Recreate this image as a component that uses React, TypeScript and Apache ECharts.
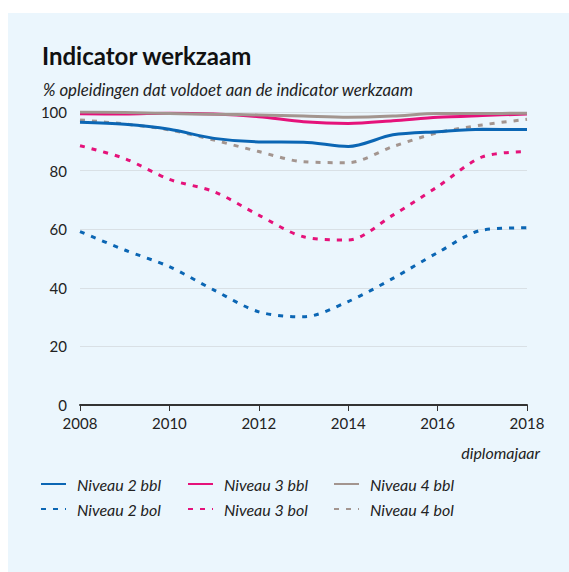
import React, { useEffect, useRef } from "react";
import * as echarts from "echarts";

const years = ["2008", "2009", "2010", "2011", "2012", "2013", "2014", "2015", "2016", "2017", "2018"];
const niveau2bbl = [96.5, 95.8, 94.1, 91.0, 89.8, 89.7, 88.2, 92.2, 93.3, 94.1, 94.0];
const niveau3bbl = [99.4, 99.3, 99.6, 99.3, 98.4, 96.7, 96.1, 97.0, 98.2, 98.8, 99.3];
const niveau4bbl = [100.0, 99.8, 99.5, 99.2, 99.0, 98.6, 98.2, 98.6, 99.5, 99.5, 99.6];
const niveau2bol = [59.2, 52.9, 47.2, 39.2, 31.8, 30.1, 35.3, 43.2, 52.0, 59.7, 60.5];
const niveau3bol = [88.5, 84.1, 77.0, 72.8, 64.8, 57.4, 56.3, 64.8, 74.5, 84.7, 86.5];
const niveau4bol = [97.3, 95.9, 93.9, 90.4, 86.5, 83.0, 82.7, 88.2, 92.9, 95.6, 97.5];
const yTicks = [0, 20, 40, 60, 80, 100];

const BLUE = "#0b66b4";
const PINK = "#e5127a";
const GRAY = "#a3958f";
const FONT = "Lato";

export default function App() {
  const ref = useRef<HTMLDivElement>(null);
  useEffect(() => {
    if (!ref.current) return;
    const chart = echarts.init(ref.current, null, { renderer: "svg" });
    const mk = (name: string, data: number[], color: string, dashed: boolean) => ({
      name,
      type: "line",
      data,
      smooth: 0.3,
      symbol: "none",
      lineStyle: { color, width: 3, type: dashed ? [5, 7] : "solid", cap: "butt" },
      itemStyle: { color },
      z: dashed ? 3 : 4,
    });
    const legendBase = {
      orient: "vertical",
      top: 463,
      padding: 0,
      itemWidth: 25,
      itemHeight: 14,
      itemGap: 9,
      itemStyle: { opacity: 0 },
      textStyle: { fontFamily: FONT, fontStyle: "italic", fontSize: 16, color: "#222", padding: [0, 0, 0, 6] },
    };
    chart.setOption({
      animation: false,
      textStyle: { fontFamily: FONT },
      title: [
        { text: "Indicator werkzaam", left: 34, top: 30, padding: 0, textStyle: { fontFamily: FONT, fontWeight: "bold", fontSize: 24, color: "#111" } },
        { text: "% opleidingen dat voldoet aan de indicator werkzaam", left: 35, top: 68, padding: 0, textStyle: { fontFamily: FONT, fontStyle: "italic", fontWeight: "normal", fontSize: 16.8, color: "#222" } },
      ],
      grid: { left: 72, right: 42, top: 99, bottom: 167 },
      xAxis: {
        type: "category",
        data: years,
        boundaryGap: false,
        axisLine: { lineStyle: { color: "#333", width: 2 } },
        axisTick: { show: true, interval: 1, length: 6, lineStyle: { color: "#333", width: 1 } },
        axisLabel: { interval: 1, fontSize: 15, color: "#222", margin: 10 },
        splitLine: { show: false },
      },
      yAxis: {
        type: "value",
        min: yTicks[0],
        max: yTicks[yTicks.length - 1],
        interval: 20,
        axisLine: { show: false },
        axisTick: { show: false },
        axisLabel: { fontSize: 15, color: "#222", margin: 13 },
        splitLine: { lineStyle: { color: "#d9e0e5", width: 1 } },
      },
      legend: [
        { ...legendBase, left: 32, data: ["Niveau 2 bbl", "Niveau 2 bol"] },
        { ...legendBase, left: 179, data: ["Niveau 3 bbl", "Niveau 3 bol"] },
        { ...legendBase, left: 325, data: ["Niveau 4 bbl", "Niveau 4 bol"] },
      ],
      graphic: [
        {
          type: "text",
          right: 29,
          top: 431,
          style: { text: "diplomajaar", fontFamily: FONT, fontStyle: "italic", fontSize: 16, fill: "#222" },
        },
      ],
      series: [
        mk("Niveau 2 bol", niveau2bol, BLUE, true),
        mk("Niveau 3 bol", niveau3bol, PINK, true),
        mk("Niveau 4 bol", niveau4bol, GRAY, true),
        mk("Niveau 2 bbl", niveau2bbl, BLUE, false),
        mk("Niveau 3 bbl", niveau3bbl, PINK, false),
        mk("Niveau 4 bbl", niveau4bbl, GRAY, false),
      ],
    });
    return () => chart.dispose();
  }, []);
  return (
    <div style={{ position: "fixed", left: 0, top: 0, width: 569, height: 572, background: "#ffffff" }}>
      <div
        ref={ref}
        style={{ position: "absolute", left: 8, top: 13, width: 561, height: 559, background: "#ebf6fd" }}
      />
    </div>
  );
}
